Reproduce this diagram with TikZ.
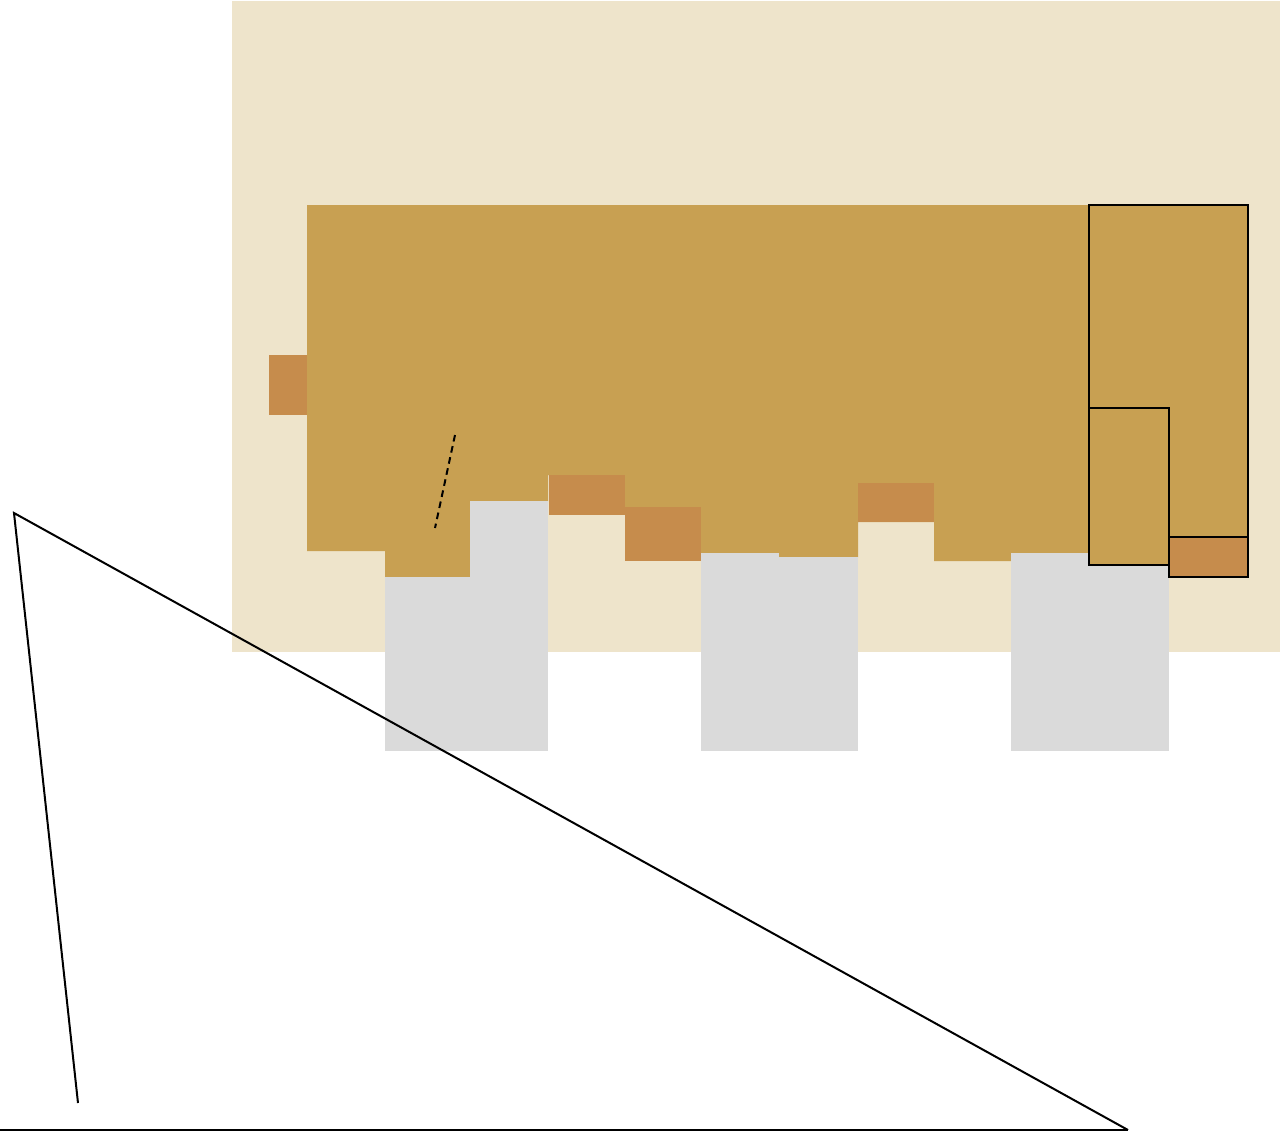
\documentclass[tikz,border=0pt]{standalone}
\usepackage[dvipsnames]{xcolor}
\usepackage{tikz}
\usetikzlibrary{calc}

\definecolor{siteBeige}{RGB}{238,228,203}
\definecolor{roofGold}{RGB}{200,160,82}
\definecolor{roofOrange}{RGB}{198,140,76}
\definecolor{pavedGrey}{RGB}{218,218,218}

\begin{document}
\begin{tikzpicture}[x=0.75pt,y=0.75pt,yscale=-1,xscale=1,
    plot/.style={line width=2pt,line join=miter},
    roof/.style={fill=roofGold},
    annex/.style={fill=roofOrange},
    paved/.style={fill=pavedGrey}]
            \useasboundingbox (0,0) rectangle (1280,1131);
            %Shape: Rectangle [site]
            \fill [siteBeige] (232,1) rectangle (1280,652) ;
            %Shape: Polygon [main roof]
            \fill [roof] (307,205) -- (1089,205) -- (1089,561) -- (934,561) -- (934,522) -- (858,522) -- (858,557)
                -- (701,557) -- (701,507) -- (625,507) -- (625,475) -- (548,475) -- (548,501) -- (470,501)
                -- (470,577) -- (385,577) -- (385,551) -- (307,551) -- cycle ;
            %Shape: Rectangle [annexes]
            \fill [annex] (269,355) rectangle (307,415) ;
            \fill [annex] (549,475) rectangle (625,515) ;
            \fill [annex] (625,507) rectangle (701,561) ;
            \fill [annex] (858,483) rectangle (934,522) ;
            %Shape: Rectangle [paved areas]
            \fill [paved] (385,577) rectangle (470,751) ;
            \fill [paved] (470,501) rectangle (548,751) ;
            \fill [paved] (701,553) rectangle (779,751) ;
            \fill [paved] (779,557) rectangle (858,751) ;
            \fill [paved] (1011,553) rectangle (1169,751) ;
            %Shape: Rectangle [outlined blocks]
            \draw [plot,roof] (1089,205) rectangle (1248,537) ;
            \draw [plot,roof] (1089,408) rectangle (1169,565) ;
            \draw [plot,annex] (1169,537) rectangle (1248,577) ;
            %Straight Lines [dashed]
            \draw [line width=1.5pt,dash pattern=on 5pt off 3.5pt] (455,435) -- (435,528) ;
            %Straight Lines [triangle]
            \draw [line width=1.5pt] (78,1103) -- (14,513) -- (1128,1130) ;
            \draw [line width=1.5pt] (0,1130) -- (1128,1130) ;
\end{tikzpicture}
\end{document}
